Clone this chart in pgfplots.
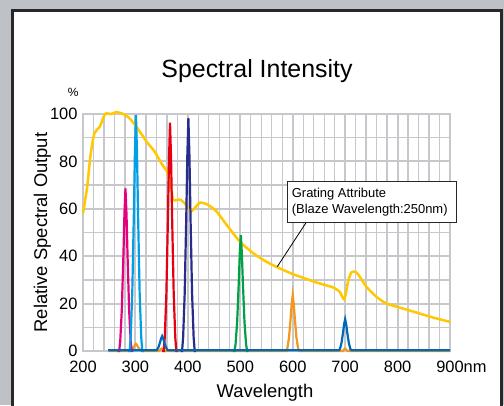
\documentclass[border=0pt]{standalone}
\usepackage{fontspec}
\setmainfont{Liberation Sans}
\usepackage{pgfplots}
\pgfplotsset{compat=1.18}

\definecolor{bggray}{RGB}{190,194,198}
\definecolor{panelborder}{RGB}{40,40,40}
\definecolor{gridgray}{RGB}{200,200,204}
\definecolor{gratingyellow}{RGB}{255,200,0}
\definecolor{pkmagenta}{RGB}{228,0,127}
\definecolor{pkcyan}{RGB}{0,160,233}
\definecolor{pkred}{RGB}{230,0,18}
\definecolor{pknavy}{RGB}{40,45,140}
\definecolor{pkgreen}{RGB}{0,160,70}
\definecolor{pkorange}{RGB}{245,150,30}
\definecolor{pkblue}{RGB}{0,104,183}

\begin{document}
\begin{tikzpicture}[x=1bp,y=1bp]
\useasboundingbox (0,0) rectangle (504,405);
\fill[bggray] (0,0) rectangle (504,405);
\filldraw[fill=white, draw=panelborder, line width=2.8bp] (12.5,-10) rectangle (501.7,394.7);

\node[font=\fontsize{25}{30}\selectfont] at (257,333.5) {Spectral Intensity};
\node[font=\fontsize{12}{14}\selectfont] at (73.3,312.3) {\%};

\begin{axis}[
  at={(83bp,54bp)}, anchor=south west,
  width=367bp, height=237bp, scale only axis,
  xmin=200, xmax=900, ymin=0, ymax=100,
  xtick={200,300,...,900},
  xticklabels={200,300,400,500,600,700,800,{900\rlap{nm}}},
  minor x tick num=4,
  ytick={0,20,...,100}, minor y tick num=1,
  grid=both,
  major grid style={draw=gridgray, line width=2bp},
  minor grid style={draw=gridgray, line width=1.3bp},
  axis line style={draw=gridgray, line width=2bp},
  major tick length=0pt, minor tick length=0pt,
  tick label style={font=\fontsize{16.5}{18}\selectfont},
  xticklabel style={inner ysep=0pt, yshift=-10bp},
  yticklabel style={xshift=-2bp, inner ysep=0pt},
  /pgf/number format/assume math mode=true,
  xlabel={Wavelength},
  ylabel={Relative Spectral Output},
  label style={font=\fontsize{18.5}{22}\selectfont},
  xlabel style={at={(axis description cs:0.496,-0.178)}, anchor=center},
  ylabel style={at={(axis description cs:-0.111,0.5)}, anchor=center},
  clip=false,
]
% grating attribute curve
\addplot[gratingyellow, line width=2.5bp, smooth, tension=0.4] coordinates {
  (200,58.1) (208,69.3) (214,82) (221.6,91.8) (232,94.6) (242,100)
  (254.7,100) (263,100.8) (277,100) (289.6,98) (302,94.6) (321.5,88.3)
  (337,84) (350,79) (359.6,76) (366,72) (372,63.9) (385,63.9)
  (394.5,62.2) (407,59.1) (423,62.6) (439,61.6) (455,58.8) (474,53.2)
  (499.5,46.1) (525,41.2) (550.3,37.6) (575.7,34.8) (601,32.4)
  (645.7,28.9) (677.4,26.8) (690,24.9) (698.5,21.8) (706,29.8)
  (712.5,33.3) (720.7,33.3) (728.3,31.2) (741,27) (760,22.8)
  (779,20) (804.6,18.3) (836.5,16.2) (868,14.1) (900,12.3)
};
% orange small bumps and 600 nm peak
\addplot[pkorange, line width=2.2bp] coordinates {
  (250,0) (289,0) (291,0.2) (294,0.75) (297,1.7) (299,2.5) (301,3)
  (303,2.5) (305,1.7) (308,0.75) (311,0.2) (313,0)
  (345,0) (350,1) (355,0)
  (588,0) (590,1.4) (593,5.9) (596,13.7) (598,19.8) (600,23.6)
  (602,19.8) (604,13.7) (607,5.9) (610,1.4) (612,0)
  (695,0) (700,1) (705,0) (900,0)
};
% magenta 281 nm
\addplot[pkmagenta, line width=2.2bp] coordinates {
  (266,0) (269,0) (271,4.1) (274,17.2) (277,39.8) (279,57.6) (281,68.6)
  (283,57.6) (285,39.8) (288,17.2) (291,4.1) (293,0) (296,0)
};
% cyan 301 nm
\addplot[pkcyan, line width=2.2bp] coordinates {
  (286,0) (289,0) (291,6) (294,24.9) (297,57.8) (299,83.7) (301,99.6)
  (303,83.7) (305,57.8) (308,24.9) (311,6) (313,0) (316,0)
};
% red 366 nm
\addplot[pkred, line width=2.2bp] coordinates {
  (351,0) (354,0) (356,5.8) (359,24.1) (362,55.9) (364,80.9) (366,96.3)
  (368,80.9) (370,55.9) (373,24.1) (376,5.8) (378,0) (381,0)
};
% navy 401 nm
\addplot[pknavy, line width=2.2bp] coordinates {
  (386,0) (389,0) (391,5.9) (394,24.6) (397,57) (399,82.5) (401,98.2)
  (403,82.5) (405,57) (408,24.6) (411,5.9) (413,0) (416,0)
};
% green 501 nm
\addplot[pkgreen, line width=2.2bp] coordinates {
  (486,0) (489,0) (491,2.9) (494,12.2) (497,28.4) (499,41.1) (501,48.9)
  (503,41.1) (505,28.4) (508,12.2) (511,2.9) (513,0) (516,0)
};
% blue baseline with 351 and 700 nm peaks
\addplot[pkblue, line width=2.2bp] coordinates {
  (248,0.3) (339,0.3) (341,0.4) (344,1.6) (347,3.7) (349,5.3) (351,6.3)
  (353,5.3) (355,3.7) (358,1.6) (361,0.4) (363,0.3)
  (688,0.3) (690,0.8) (693,3.4) (696,7.8) (698,11.3) (700,13.4)
  (702,11.3) (704,7.8) (707,3.4) (710,0.8) (712,0.3) (900,0.3)
};
% annotation
\draw[black, line width=0.8bp] (axis cs:625.3,54.1) -- (axis cs:570.6,35.6);
\filldraw[fill=white, draw=panelborder, line width=0.8bp]
  (axis cs:589.7,54.1) rectangle (axis cs:912.8,71.7);
\node[anchor=west, align=left, inner sep=0pt,
  font=\fontsize{13}{15.7}\selectfont] at (axis cs:598,62.8)
  {Grating Attribute\\(Blaze Wavelength:250nm)};
\end{axis}
\end{tikzpicture}
\end{document}
